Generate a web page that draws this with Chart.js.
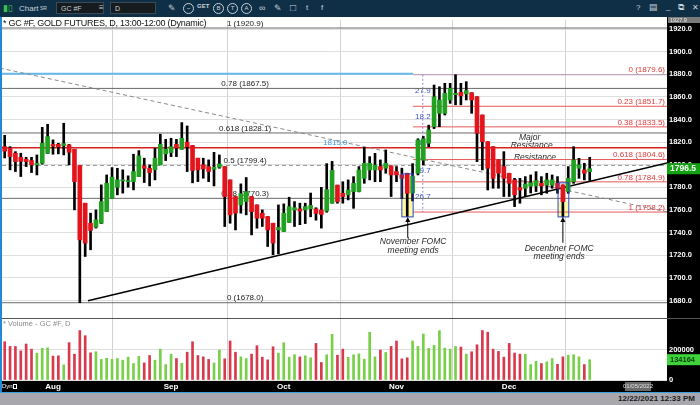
<!DOCTYPE html>
<html>
<head>
<meta charset="utf-8">
<script src="https://cdn.jsdelivr.net/npm/chart.js@4.4.1/dist/chart.umd.min.js"></script>
<style>
  body { margin: 0; width: 700px; height: 405px; overflow: hidden; background: #fff; position: relative;
         font-family: "Liberation Sans", Arial, sans-serif; }
  #hdr { position: absolute; left: 0; top: 0; width: 700px; height: 17px; background: #0f2f46; color: #c8d2da; font-size: 8px; }
  #hdr span { position: absolute; top: 4px; white-space: nowrap; }
  #hdr .box { top: 2px; height: 12px; line-height: 12px; background: #161b20; border: 1px solid #3c4a55; padding-left: 4px; box-sizing: border-box; font-size: 7px; }
  #hdr .ico { top: 3px; width: 9px; height: 9px; border: 1px solid #c8d2da; border-radius: 50%; font-size: 6px; line-height: 9px; text-align: center; }
  #wrap { position: absolute; left: 0; top: 17px; width: 700px; height: 375px; }
  #title { position: absolute; left: 3px; top: 18px; font-size: 9px; letter-spacing: -0.25px; color: #111; z-index: 2; }
  #status { position: absolute; left: 0; top: 392px; width: 700px; height: 13px; background: #a7a7ad; border-top: 1px solid #3aa0e0; box-sizing: border-box; }
  #status span { position: absolute; right: 5px; top: 1px; font-size: 8px; font-weight: bold; color: #1c1c1c; }
</style>
</head>
<body>
<div id="hdr">
  <span style="left:3px;top:3px;color:#3cc24e;font-size:9px">&#9646;&#9647;</span>
  <span style="left:19px">Chart</span>
  <span style="left:40px;top:5px;font-size:5px">SR</span>
  <span class="box" style="left:56px;width:48px">GC #F</span>
  <span style="left:99px;top:3px">&#8801;</span>
  <span class="box" style="left:110px;width:46px">D</span>
  <span style="left:168px;top:3px;font-size:9px">&#9998;</span>
  <span class="ico" style="left:183px">~</span>
  <span style="left:197px;top:3px;font-size:6px;font-weight:bold">GET</span>
  <span class="ico" style="left:213px">B</span>
  <span class="ico" style="left:227px">T</span>
  <span class="ico" style="left:241px">A</span>
  <span style="left:259px;top:3px;font-size:9px">&#8734;</span>
  <span style="left:274px;top:3px;font-size:9px">&#9998;</span>
  <span style="left:290px;top:2px;font-size:10px">&#9633;</span>
  <span style="left:306px;top:3px;font-size:8px">t</span>
  <span style="left:321px;top:3px;font-size:8px">f</span>
  <span style="left:636px;top:3px">?</span>
  <span style="left:649px;top:2px;font-size:9px">&#9636;</span>
  <span style="left:666px;top:2px">_</span>
  <span style="left:678px;top:2px;font-size:9px">&#10697;</span>
  <span style="left:692px;top:3px">&#10005;</span>
</div>
<div id="title">* GC #F, GOLD FUTURES, D, 13:00-12:00 (Dynamic)</div>
<div id="wrap"><canvas id="c" width="700" height="375"></canvas></div>
<div id="status"><span>12/22/2021 12:33 PM</span></div>
<script>
// daily bars, 20 Jul 2021 .. 22 Dec 2021 (index = trading day)
const openP = [1816,1814.6,1810.2,1806.6,1804.9,1803.7,1799.9,1801.3,1810.2,1818,
  1818.1,1817,1817.5,1813.7,1799.3,1766,1748.3,1744.8,1748.3,1758.6,
  1770.4,1780.1,1785.7,1785.1,1785.1,1789.6,1799,1796.9,1795.5,1799.9,
  1809.6,1810.8,1818,1813.7,1820,1817,1805.8,1799.9,1798.4,1796,
  1797.8,1798.4,1786.6,1771.9,1764.5,1767.5,1771.9,1764.5,1757.2,1754.2,
  1748.3,1742.4,1741,1749,1760,1761,1760,1761,1761,1760,
  1759,1766,1782,1774.8,1773.4,1776.3,1776.3,1788,1795.4,1795.4,
  1798.4,1797,1799,1794,1791,1792.5,1775,1792.5,1804,1819,
  1833.7,1845.5,1845.5,1857.3,1862,1864,1862.6,1863.7,1860.2,1844,
  1820.4,1816,1804.3,1798.4,1792.5,1786.6,1779.8,1779.2,1781,1781.3,
  1783.6,1782,1782,1783.6,1782.2,1776.3,1785,1796.9,1795.4,1793.9];
const highP = [1826,1816,1811.6,1810.2,1806.6,1806.6,1808.7,1833.1,1835.8,1822,
  1819,1836.7,1818,1813.7,1799.3,1766,1757.2,1760.1,1782.2,1791,
  1797.5,1796.9,1795.5,1790.2,1809.3,1812.5,1805.8,1799.9,1814.6,1827,
  1822.5,1823.4,1822.5,1837.3,1834.3,1817,1805.8,1805.8,1804.3,1811,
  1808.7,1798.4,1786.6,1771.9,1783.1,1788.7,1771.9,1764.5,1760.1,1754.2,
  1748.3,1764.5,1765.4,1771.3,1767.4,1766,1766,1775,1762,1780,
  1801,1803,1782,1785,1786.6,1789.5,1798.4,1815.4,1807.2,1810.1,
  1804.3,1813.1,1799,1798.4,1797,1792.5,1801,1823,1825,1835,
  1870.5,1869,1872,1872,1879.6,1872,1873.5,1863.7,1860.2,1844,
  1820.4,1816,1804.3,1811.6,1792.5,1788,1788,1789.5,1791,1793.9,
  1789.5,1792.5,1791,1789.5,1782.2,1798.4,1816,1805.7,1801.3,1806.6];
const lowP = [1806,1795.5,1794,1789.6,1798.4,1793.1,1791,1800.5,1810,1809.3,
  1809.6,1808.7,1799.9,1760.1,1678,1718.9,1724.8,1744,1748,1758.6,
  1770.4,1773.4,1774.9,1780.1,1777.8,1789.6,1784.3,1781.3,1786.6,1799.9,
  1803.7,1807.2,1807.2,1813.7,1794,1784,1785.1,1788.1,1785.1,1781.3,
  1796.9,1745.4,1748.3,1742.4,1757.2,1755.7,1738,1743.9,1745.4,1727.7,
  1720.4,1721.2,1741,1749,1745.4,1747,1748,1754,1751,1744,
  1758,1766,1766,1766,1768.9,1761.5,1776,1783.6,1786.6,1785,
  1785,1792.5,1771.9,1785,1770,1754.2,1768,1791,1800,1816,
  1832,1833.7,1844,1854.3,1853,1853,1857.3,1845.5,1802.8,1795.4,
  1777.7,1779.2,1779.2,1771.9,1771.9,1763,1766,1771.9,1775,1776.3,
  1773.4,1774.8,1779.2,1774.8,1753.9,1774.8,1783.6,1788,1786.6,1786];
const closeP = [1812,1807.2,1802.8,1803,1802.8,1799.9,1801.3,1819,1824.9,1816.5,
  1816,1818.7,1811,1785.1,1733.6,1730.7,1741.9,1751.3,1767.5,1783.7,
  1789,1786.6,1786.7,1786,1794,1807.8,1796.9,1793.1,1805.8,1818.1,
  1813.7,1816,1815,1823.4,1816,1795,1795.5,1796.3,1794,1797.8,
  1800.8,1771.9,1755.7,1757.2,1774.5,1776.3,1758.6,1752.8,1752.8,1742.4,
  1730.7,1744.5,1757.2,1763,1762,1759,1763,1764,1757,1756,
  1778,1795,1767.4,1771.9,1777.7,1783.6,1795.4,1801.3,1801.3,1799.8,
  1795.4,1801.3,1791,1791,1788,1774.8,1790,1821.9,1823,1830.8,
  1860,1857.3,1863.2,1867.6,1863.2,1861,1865.5,1857.3,1827.8,1820.4,
  1796.9,1788,1792.5,1788,1783.6,1773.4,1777.7,1783,1784,1786,
  1781.3,1786.6,1786.6,1779.2,1767.4,1788,1804.3,1799.9,1792.5,1796.5];
const volume = [253000,222000,222000,193000,238000,204000,178000,209000,213000,158000,
  160000,100000,247000,171000,327000,293000,180000,187000,136000,144000,
  136000,142000,131000,151000,109000,156000,113000,162000,131000,204000,
  102000,171000,142000,111000,184000,253000,162000,153000,136000,113000,
  198000,140000,258000,184000,153000,142000,171000,227000,151000,133000,
  220000,178000,247000,151000,167000,153000,160000,147000,242000,116000,
  167000,302000,164000,204000,150000,167000,173000,138000,316000,153000,
  198000,182000,222000,258000,140000,147000,258000,222000,304000,209000,
  229000,327000,211000,204000,222000,218000,171000,187000,233000,327000,
  316000,204000,189000,151000,242000,178000,171000,171000,102000,124000,
  109000,120000,142000,104000,153000,164000,167000,153000,102000,134164];

// month starts on the time axis
const monthIdx = [9, 31, 52, 73, 94];
const monthNames = ['Aug', 'Sep', 'Oct', 'Nov', 'Dec'];
const priceTicks = [1680, 1700, 1720, 1740, 1760, 1780, 1800, 1820, 1840, 1860, 1880, 1900, 1920];
const volumeTicks = [0, 200000];
const futureIdx = 118, futureLabel = '01/05/2022';
const lastPrice = 1796.5, lastVolume = 134164, topPrice = 1927.9;

// retracement 1920.9 -> 1678.0 (grey) and 1879.6 -> 1758.2 (red)
const greyRatios = ['1', '0.78', '0.618', '0.5', '0.38', '0'];
const greyLevels = [1920.9, 1867.5, 1828.1, 1799.4, 1770.3, 1678.0];
const redRatios = ['0', '0.23', '0.38', '0.618', '0.78', '1'];
const redLevels = [1879.6, 1851.7, 1833.5, 1804.6, 1784.9, 1758.2];
const redStart = 76.1, measureX = 77.9;
const resistance = 1815.0, blueLevel = 1880.5;
// trend lines [x0, y0, x1, y1]
const upTrend = [15.52, 1679.7, 123.4, 1801.6];
const downTrend = [-0.9, 1885.5, 123.4, 1758.3];
// FOMC boxes [x0, x1, low, high, candle]
const fomcBoxes = [[74.0, 76.1, 1753.9, 1791.9, 75], [103.1, 105.1, 1753.9, 1784.0, 104]];
const notes = [
  {x: 76.1, y: 1731.8, t: 'November FOMC'}, {x: 76.1, y: 1723.9, t: 'meeting ends'},
  {x: 103.3, y: 1725.6, t: 'Decenbner FOMC'}, {x: 103.3, y: 1718.6, t: 'meeting ends'},
  {x: 97.8, y: 1823.7, t: 'Major'}, {x: 98.2, y: 1816.6, t: 'Resistance'},
  {x: 98.8, y: 1806.0, t: 'Resistance'}
];
const arrows = [[75.1, 1735.4, 1753.9], [104, 1731.0, 1753.9]];

const idx = closeP.map((_, i) => i);
const up = idx.map(i => closeP[i] >= openP[i]);

function seg(x0, y0, x1, y1, color, width, dash) {
  return {type: 'line', data: [{x: x0, y: y0}, {x: x1, y: y1}], borderColor: color, borderWidth: width,
    borderDash: dash || [], pointRadius: 0, yAxisID: 'y', xAxisID: 'x', tension: 0};
}

const datasets = [
  {type: 'bar', data: idx.map(i => ({x: i, y: [openP[i], closeP[i]]})), yAxisID: 'y',
    backgroundColor: up.map(u => u ? '#22a022' : '#e3141b'), barThickness: 4, minBarLength: 1, grouped: false},
  {type: 'bar', data: idx.map(i => ({x: i, y: [lowP[i], highP[i]]})), yAxisID: 'y',
    backgroundColor: '#000', barThickness: 2, grouped: false},
  {type: 'bar', data: idx.map(i => ({x: i, y: volume[i]})), yAxisID: 'v',
    backgroundColor: up.map(u => u ? '#78cf48' : '#d9394d'), barThickness: 2, grouped: false},
  seg(upTrend[0], upTrend[1], upTrend[2], upTrend[3], '#000', 1.6),
  seg(downTrend[0], downTrend[1], downTrend[2], downTrend[3], '#8a8a8a', 1, [4, 3]),
  seg(-0.5, resistance, 123.4, resistance, '#d61f1f', 1.4),
  seg(-0.5, blueLevel, redStart, blueLevel, '#68b8e8', 2),
  seg(measureX, redLevels[0], measureX, redLevels[5], '#8f86d8', 1, [2, 2])
];
greyLevels.forEach((v, k) => datasets.push(seg(-0.5, v, 123.4, v, k === 3 ? '#999' : '#6a6a6a', 1, k === 3 ? [4, 3] : [])));
redLevels.forEach((v, k) => datasets.push(seg(redStart, v, 123.4, v, k === 0 ? '#b394b0' : '#e45a5a', 1)));

const deco = {
  id: 'deco',
  beforeDraw(c) {
    const {ctx, chartArea: a, width, height} = c;
    ctx.save();
    ctx.fillStyle = '#000';
    ctx.fillRect(a.right, 0, width - a.right, height);
    ctx.fillRect(0, a.bottom, width, height - a.bottom);
    ctx.restore();
  },
  beforeDatasetsDraw(c) {
    const {ctx, scales: {x, y}, chartArea: a} = c;
    ctx.save();
    // yellow part of the FOMC boxes
    fomcBoxes.forEach(b => {
      ctx.fillStyle = '#fdf7a8';
      const top = y.getPixelForValue(closeP[b[4]]), bot = y.getPixelForValue(b[2]);
      ctx.fillRect(x.getPixelForValue(b[0]), top, x.getPixelForValue(b[1]) - x.getPixelForValue(b[0]), bot - top);
    });
    ctx.font = '8px "Liberation Sans", Arial';
    ctx.textBaseline = 'bottom';
    ctx.textAlign = 'center';
    ctx.fillStyle = '#1a1a1a';
    greyLevels.forEach((v, k) => ctx.fillText(greyRatios[k] + ' (' + v.toFixed(1) + ')', x.getPixelForValue(44.8), y.getPixelForValue(v) - 0.5));
    ctx.textAlign = 'right';
    ctx.fillStyle = '#e03a3a';
    redLevels.forEach((v, k) => ctx.fillText(redRatios[k] + ' (' + v.toFixed(1) + ')', a.right - 2, y.getPixelForValue(v) - 0.5));
    ctx.textAlign = 'center';
    ctx.fillStyle = '#3d9be0';
    ctx.fillText(resistance.toFixed(1), x.getPixelForValue(61.6), y.getPixelForValue(resistance) - 0.5);
    ctx.fillStyle = '#3c50d0';
    ctx.textBaseline = 'middle';
    for (let k = 0; k < redLevels.length - 1; k++) {
      const d = (redLevels[k] - redLevels[k + 1]).toFixed(1);
      ctx.fillText(d, x.getPixelForValue(measureX), y.getPixelForValue((redLevels[k] + redLevels[k + 1]) / 2));
    }
    ctx.fillStyle = '#2a2a2a';
    ctx.font = 'italic 8.5px "Liberation Sans", Arial';
    notes.forEach(n => ctx.fillText(n.t, x.getPixelForValue(n.x), y.getPixelForValue(n.y)));
    ctx.restore();
  },
  afterDatasetsDraw(c) {
    const {ctx, scales: {x, y}} = c;
    ctx.save();
    ctx.strokeStyle = '#2c44c4';
    ctx.lineWidth = 1;
    fomcBoxes.forEach(b => {
      const x0 = x.getPixelForValue(b[0]), x1 = x.getPixelForValue(b[1]);
      const y0 = y.getPixelForValue(b[3]), y1 = y.getPixelForValue(b[2]);
      ctx.strokeRect(x0, y0, x1 - x0, y1 - y0);
    });
    ctx.strokeStyle = '#000';
    ctx.fillStyle = '#000';
    arrows.forEach(r => {
      const px = x.getPixelForValue(r[0]), pb = y.getPixelForValue(r[1]), pt = y.getPixelForValue(r[2]);
      ctx.beginPath(); ctx.moveTo(px, pb); ctx.lineTo(px, pt + 4); ctx.stroke();
      ctx.beginPath(); ctx.moveTo(px, pt); ctx.lineTo(px - 2.5, pt + 5); ctx.lineTo(px + 2.5, pt + 5); ctx.closePath(); ctx.fill();
    });
    ctx.restore();
  },
  afterDraw(c) {
    const {ctx, scales: {x, y, v}, chartArea: a, width} = c;
    ctx.save();
    // panel separator
    ctx.strokeStyle = '#555';
    ctx.beginPath(); ctx.moveTo(0, y.bottom + 0.5); ctx.lineTo(width, y.bottom + 0.5); ctx.stroke();
    // left blue border
    ctx.fillStyle = '#1f8bd6';
    ctx.fillRect(0, 0, 2, c.height);
    // top value
    ctx.fillStyle = '#7a7a7a';
    ctx.fillRect(a.right + 1, 0, width - a.right - 1, 6);
    ctx.font = '5.5px "Liberation Sans", Arial';
    ctx.fillStyle = '#e8e8e8';
    ctx.textBaseline = 'middle';
    ctx.textAlign = 'left';
    ctx.fillText(topPrice.toFixed(1), a.right + 3, 3);
    // last price tag
    const ly = y.getPixelForValue(lastPrice);
    ctx.fillStyle = '#12a312';
    ctx.fillRect(a.right, ly - 5.5, width - a.right, 11);
    ctx.fillStyle = '#fff';
    ctx.font = 'bold 8.5px "Liberation Sans", Arial';
    ctx.fillText(lastPrice.toFixed(1), a.right + 3, ly);
    // last volume tag
    const vy = v.getPixelForValue(lastVolume);
    ctx.fillStyle = '#3fd43c';
    ctx.fillRect(a.right, vy - 5.5, width - a.right, 11);
    ctx.fillStyle = '#0a3a0a';
    ctx.font = 'bold 7.5px "Liberation Sans", Arial';
    ctx.fillText(String(lastVolume), a.right + 3, vy);
    // volume legend
    ctx.font = '7.5px "Liberation Sans", Arial';
    ctx.fillStyle = '#8a8a8a';
    ctx.fillText('* Volume - GC #F, D', 3, y.bottom + 6);
    // axis extras
    ctx.fillStyle = '#fff';
    ctx.font = '6px "Liberation Sans", Arial';
    ctx.fillText('Dyn', 2, a.bottom + 6);
    ctx.strokeStyle = '#fff';
    ctx.strokeRect(13.5, a.bottom + 4.5, 3, 4);
    const fx = x.getPixelForValue(futureIdx);
    ctx.fillStyle = '#6a6a6a';
    ctx.fillRect(fx - 13, a.bottom + 2, 26, 9);
    ctx.fillStyle = '#e0e0e0';
    ctx.textAlign = 'center';
    ctx.fillText(futureLabel, fx, a.bottom + 6.5);
    ctx.restore();
  }
};

// keep the plot edges where the screenshot has them
function noPad(s) { s.paddingTop = 0; s.paddingBottom = 0; s.paddingLeft = 0; s.paddingRight = 0; }
const axisFont = {size: 7.5, weight: 'bold', family: '"Liberation Sans", Arial'};

new Chart(document.getElementById('c'), {
  type: 'bar',
  data: {datasets},
  options: {
    responsive: false,
    animation: false,
    layout: {padding: {top: 3, left: 2, right: 0, bottom: 0}},
    plugins: {legend: {display: false}, tooltip: {enabled: false}},
    scales: {
      x: {
        type: 'linear', min: -0.5, max: 123.4, offset: false,
        grid: {color: '#d2d2d2', drawTicks: false},
        border: {display: false},
        afterBuildTicks: s => { s.ticks = monthIdx.map(m => ({value: m})); },
        afterFit: s => { s.height = 12; noPad(s); },
        ticks: {color: '#fff', font: {size: 8, weight: 'bold', family: '"Liberation Sans", Arial'}, padding: 2,
          maxRotation: 0, autoSkip: false, callback: val => monthNames[monthIdx.indexOf(val)] || ''}
      },
      y: {
        type: 'linear', position: 'right', stack: 'panes', stackWeight: 298,
        min: 1664.5, max: 1928,
        grid: {color: '#dedede', drawTicks: false},
        border: {display: false},
        afterBuildTicks: s => { s.ticks = priceTicks.map(t => ({value: t})); },
        afterFit: s => { s.width = 33; noPad(s); },
        ticks: {color: '#fff', padding: 2, autoSkip: false, font: axisFont,
          callback: val => val.toFixed(1)}
      },
      v: {
        type: 'linear', position: 'right', stack: 'panes', stackWeight: 62,
        min: 0, max: 410000,
        grid: {color: '#dedede', drawTicks: false},
        border: {display: false},
        afterBuildTicks: s => { s.ticks = volumeTicks.map(t => ({value: t})); },
        afterFit: s => { s.width = 33; noPad(s); },
        ticks: {color: '#fff', padding: 2, autoSkip: false, font: axisFont,
          callback: val => String(val)}
      }
    }
  },
  plugins: [deco]
});
</script>
</body>
</html>
